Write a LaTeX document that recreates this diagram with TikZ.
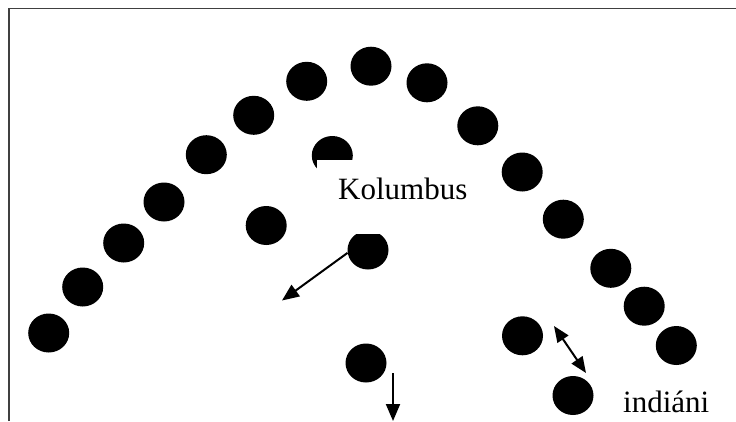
\documentclass[tikz,border=0pt]{standalone}
\usepackage{fontspec}
\setmainfont{Liberation Serif}
\usetikzlibrary{arrows.meta,shapes.geometric}
\tikzset{
  dot/.style={ellipse,fill=black,inner sep=0pt,minimum width=41pt,minimum height=39pt},
  frameline/.style={draw=black!75,line width=1.6pt},
  arr/.style={line width=2pt,-{Triangle[length=17pt,width=14pt]}},
  darr/.style={line width=2pt,{Triangle[length=16pt,width=13pt]}-{Triangle[length=16pt,width=13pt]}},
  lbl/.style={font=\fontsize{31}{37}\selectfont,inner sep=0pt,anchor=base west},
  cover/.style={fill=white,inner sep=0pt,anchor=north west,minimum width=170pt,minimum height=74pt}
}
\begin{document}
\begin{tikzpicture}[x=1pt,y=-1pt]
\useasboundingbox (0,0) rectangle (736,421);
% frame (top and left only)
\coordinate (fl) at (9,421);
\coordinate (fc) at (9,8.5);
\coordinate (fr) at (736,8.5);
\draw[frameline] (fl) -- (fc) -- (fr);
% arc of dots
\node[dot] (a1) at (48.7,333) {};
\node[dot] (a2) at (82.7,287) {};
\node[dot] (a3) at (123.7,243) {};
\node[dot] (a4) at (164,202) {};
\node[dot] (a5) at (206.3,154.7) {};
\node[dot] (a6) at (253.7,115.3) {};
\node[dot] (a7) at (306.7,81.3) {};
\node[dot] (a8) at (371,66.2) {};
\node[dot] (a9) at (427,82.8) {};
\node[dot] (a10) at (477.8,125.8) {};
\node[dot] (a11) at (522.2,172) {};
\node[dot] (a12) at (563.3,219.2) {};
\node[dot] (a13) at (610.8,268.3) {};
\node[dot] (a14) at (644.2,306.2) {};
\node[dot] (a15) at (676.3,345.5) {};
% inner dots
\node[dot] (b1) at (332.3,155.5) {};
\node[dot] (b2) at (266.2,225.5) {};
\node[dot] (b3) at (368,250) {};
\node[dot] (b4) at (366,363) {};
\node[dot] (b5) at (522.5,335.8) {};
\node[dot] (b6) at (573,395.5) {};
% white text box of Kolumbus
\node[cover] (kbox) at (317,159.3) {};
\node[lbl] (kol) at (338,199) {Kolumbus};
% indiani
\node[lbl] (ind) at (623,412.7) {indiáni};
% arrows
\coordinate (t1) at (282,300.5);
\draw[arr] (b3.188) -- (t1);
\coordinate (s2) at (393,373);
\coordinate (t2) at (393,421);
\draw[arr] (s2) -- (t2);
\coordinate (s3) at (554,326);
\coordinate (t3) at (586,373);
\draw[darr] (s3) -- (t3);
\end{tikzpicture}
\end{document}
